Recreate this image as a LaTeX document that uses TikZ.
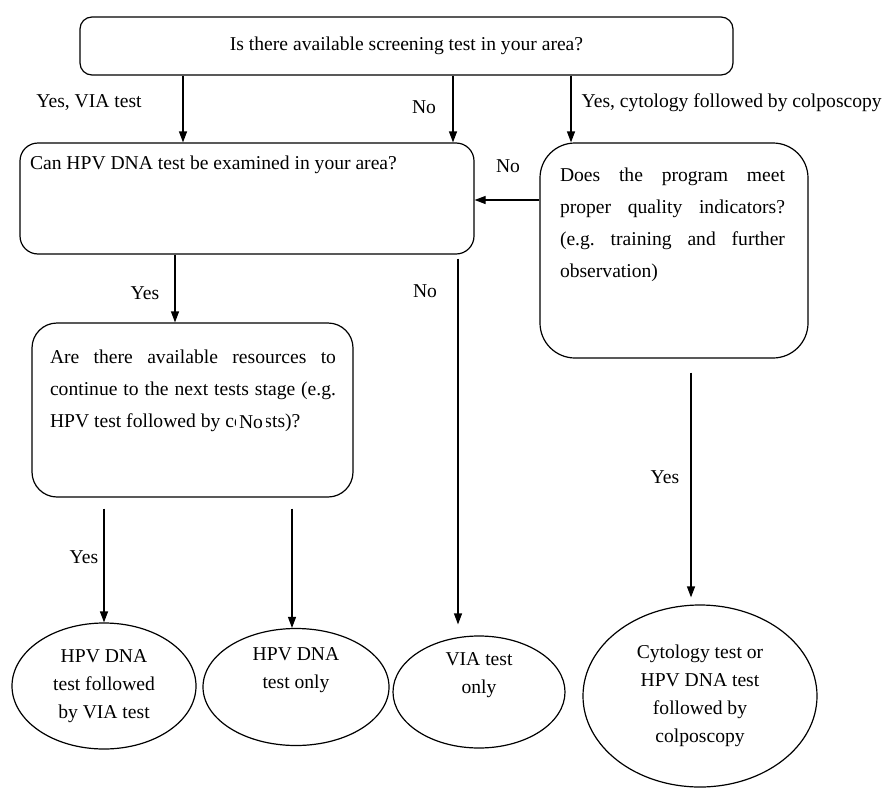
\documentclass[tikz,border=0pt]{standalone}
\usepackage{fontspec}
\setmainfont{Liberation Serif}
\usetikzlibrary{arrows.meta,positioning,calc,shapes.geometric}
\frenchspacing

\begin{document}
\begin{tikzpicture}[
 x=1pt,y=-1pt,
 line width=1.2pt,
 box/.style={draw,rounded corners=#1,inner sep=0pt,font=\fontsize{19.6}{24}\selectfont},
 box/.default=12pt,
 qtext/.style={anchor=north west,inner sep=0pt,align=justify,font=\fontsize{19.6}{32}\selectfont},
 qline/.style={anchor=north west,inner sep=0pt,font=\fontsize{19.6}{24}\selectfont},
 res/.style={draw,ellipse,inner sep=0pt,align=center,font=\fontsize{19.6}{28}\selectfont},
 lbl/.style={inner sep=1pt,font=\fontsize{19.6}{24}\selectfont},
 arr/.style={-{Triangle[length=11pt,width=8pt]}}
]
\useasboundingbox (0,0) rectangle (888,787);

% questions
\node[box=12pt,minimum width=653,minimum height=58] (screen) at (406.5,46) {Is there available screening test in your area?};
\node[box=18pt,minimum width=454,minimum height=111,
 label={[qline,xshift=10pt,yshift=-13pt]north west:{Can HPV DNA test be examined in your area?}}] (hpv) at (247,198.5) {};
\node[box=35pt,minimum width=268,minimum height=215,
 label={[qtext,text width=225pt,xshift=20pt,yshift=-25pt]north west:{Does the program meet\linebreak proper quality indicators?\linebreak (e.g. training and further\linebreak observation)}}] (qual) at (674,250.5) {};
\node[box=25pt,minimum width=321,minimum height=174,
 label={[qtext,text width=286pt,xshift=18pt,yshift=-27pt]north west:{Are there available resources to\linebreak continue to the next tests stage (e.g.\linebreak HPV test followed by co-tests)?}}] (rsrc) at (192.5,410) {};

% outcomes
\node[res,minimum width=184,minimum height=126] (both) at (104,686) {HPV DNA\\test followed\\by VIA test};
\node[res,minimum width=186,minimum height=117] (hpvonly) at (296,687) {HPV DNA\\test only\\[10pt]};
\node[res,minimum width=172,minimum height=112] (viaonly) at (479,692) {VIA test\\only\\[10pt]};
\node[res,minimum width=234,minimum height=182] (cyto) at (700,696) {Cytology test or\\HPV DNA test\\followed by\\colposcopy};

% arrow columns
\coordinate (c1) at (183,0);
\coordinate (c2) at (453,0);
\coordinate (c3) at (571,0);
\coordinate (c4) at (0,200);
\coordinate (c5) at (175,0);
\coordinate (c6) at (458,0);
\coordinate (c7) at (104,0);
\coordinate (c8) at (292,0);
\coordinate (c9) at (691,0);

\draw[arr] (screen.south -| c1) -- (hpv.north -| c1);
\draw[arr] (screen.south -| c2) -- (hpv.north -| c2);
\draw[arr] (screen.south -| c3) -- (qual.north -| c3);
\draw[arr] (qual.west |- c4) -- (hpv.east |- c4);
\draw[arr] (hpv.south -| c5) -- (rsrc.north -| c5);
\draw[arr,shorten <=4pt,shorten >=11pt] (hpv.south -| c6) -- (viaonly.north -| c6);
\draw[arr,shorten <=11pt] (rsrc.south -| c7) -- (both.north -| c7);
\draw[arr,shorten <=11pt] (rsrc.south -| c8) -- (hpvonly.north -| c8);
\draw[arr,shorten <=14pt,shorten >=7pt] (qual.south -| c9) -- (cyto.north -| c9);

% branch labels
\node[lbl] (l1) at (89,103) {Yes, VIA test};
\node[lbl] (l2) at (424,107) {No};
\node[lbl,anchor=west] (l3) at (580,103) {Yes, cytology followed by colposcopy};
\node[lbl] (l4) at (508,166) {No};
\node[lbl] (l5) at (145,293) {Yes};
\node[lbl] (l6) at (425,291) {No};
\node[lbl] (l7) at (84,557) {Yes};
\node[lbl,fill=white,inner sep=3pt] (l8) at (251,422) {No};
\node[lbl] (l9) at (665,477) {Yes};
\end{tikzpicture}
\end{document}
